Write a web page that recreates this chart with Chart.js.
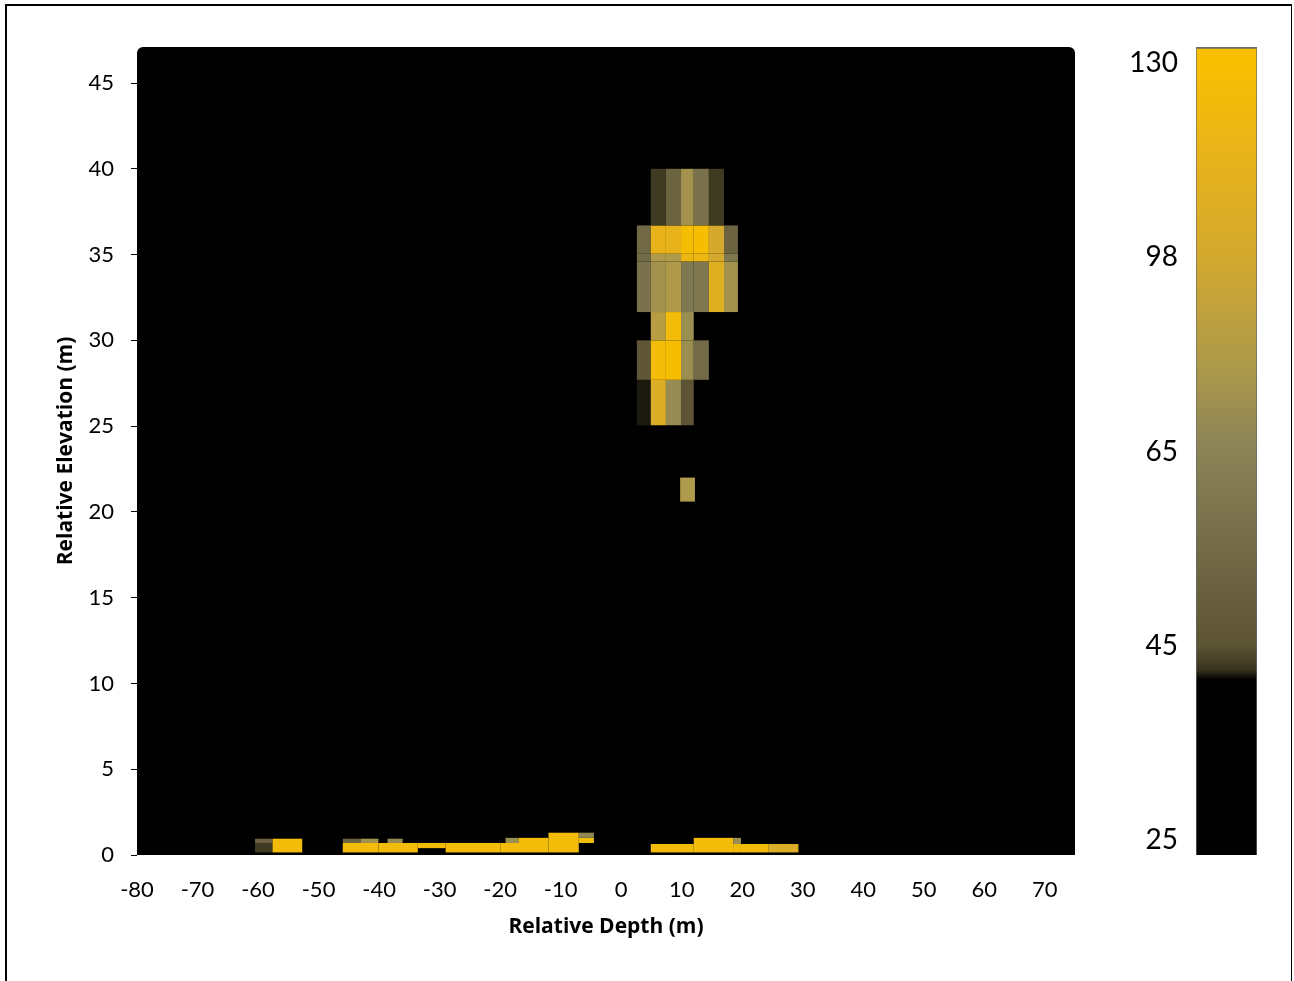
<!DOCTYPE html>
<html>
<head>
<meta charset="utf-8">
<script src="https://cdn.jsdelivr.net/npm/chart.js@4.4.1/dist/chart.umd.min.js"></script>
<style>
  html, body { margin: 0; padding: 0; background: #fff; }
  body { width: 1294px; height: 981px; position: relative; overflow: hidden; }
  #frame {
    position: absolute; left: 5px; top: 4px; width: 1287px; height: 990px;
    border-left: 2.5px solid #000; border-top: 2px solid #000; border-right: 1.5px solid #000;
    box-sizing: border-box;
  }
  #main { position: absolute; left: 0; top: 0; }
  #cbar { position: absolute; left: 1100px; top: 0; }
</style>
</head>
<body>
<div id="frame"></div>
<canvas id="main" width="1294" height="981"></canvas>
<canvas id="cbar" width="160" height="981"></canvas>
<script>
// axis ticks
const X_TICKS = [-80, -70, -60, -50, -40, -30, -20, -10, 0, 10, 20, 30, 40, 50, 60, 70];
const Y_TICKS = [0, 5, 10, 15, 20, 25, 30, 35, 40, 45];

// colour scale (value -> colour), same for cells and colour bar
const STOP_VALUES = [25, 41.5, 42.5, 45, 55, 65, 80, 98, 115, 130];
const STOP_COLORS = ['#000000', '#000000', '#38331e', '#5c5434', '#736b47', '#8a8357',
                     '#ae9a4a', '#d3a92e', '#e8b31a', '#f8c000'];

// colour bar labels (evenly spaced, non-linear values)
const CBAR_VALUES = [25, 45, 65, 98, 130];
const CBAR_LABELS = ['25', '45', '65', '98', '130'];

// upper cluster: column / row edges and values (rows bottom -> top, null = empty)
const CLUSTER_X_EDGES = [2.6, 4.9, 7.4, 9.9, 12.0, 14.5, 17.0, 19.3];
const CLUSTER_Y_EDGES = [25.05, 27.7, 30.0, 31.65, 34.6, 35.05, 36.7, 40.0];
const CLUSTER_VALUES = [
    [42, 105, 70, 45, null, null, null],
    [46, 125, 128, 72, 55, null, null],
    [null, 85, 125, 72, null, null, null],
    [58, 75, 80, 60, 60, 108, 75],
    [55, 80, 80, 120, 120, 100, 60],
    [54, 115, 115, 128, 128, 100, 52],
    [null, 43, 52, 75, 58, 43, null]
];

// single isolated cell: [x0, x1, y0, y1, value]
const SPOT_CELL = [9.75, 12.2, 20.6, 22.0, 80];

// near-surface cells: [x0, x1, y0, y1, value]
const SURFACE_CELLS = [
    [-60.5, -57.6, 0.15, 0.7, 43],
    [-60.5, -57.6, 0.7, 0.95, 50],
    [-57.6, -52.7, 0.15, 0.95, 125],
    [-46.0, -40.1, 0.15, 0.7, 125],
    [-46.0, -43.0, 0.7, 0.95, 52],
    [-43.0, -40.1, 0.7, 0.95, 75],
    [-40.1, -33.6, 0.15, 0.7, 125],
    [-38.6, -36.1, 0.7, 0.95, 70],
    [-33.6, -29.0, 0.4, 0.7, 125],
    [-29.0, -19.9, 0.15, 0.7, 125],
    [-19.9, -12.0, 0.15, 0.7, 125],
    [-19.1, -16.9, 0.7, 1.0, 72],
    [-16.9, -12.0, 0.7, 1.0, 125],
    [-12.0, -7.0, 0.15, 1.3, 125],
    [-7.0, -4.5, 0.7, 1.0, 125],
    [-7.0, -4.5, 1.0, 1.3, 68],
    [4.9, 12.0, 0.15, 0.64, 125],
    [12.0, 18.5, 0.15, 1.0, 125],
    [18.5, 19.8, 0.64, 1.0, 72],
    [18.5, 19.8, 0.15, 0.64, 125],
    [19.8, 24.3, 0.15, 0.64, 125],
    [24.3, 29.3, 0.15, 0.64, 105]
];

const TICK_FONT = 'Lato';
const TITLE_FONT = '"Open Sans"';

function hexToRgb(h) {
    const n = parseInt(h.slice(1), 16);
    return [(n >> 16) & 255, (n >> 8) & 255, n & 255];
}

function colorFor(v) {
    if (v <= STOP_VALUES[0]) return STOP_COLORS[0];
    for (let i = 1; i < STOP_VALUES.length; i++) {
        if (v <= STOP_VALUES[i]) {
            const t = (v - STOP_VALUES[i - 1]) / (STOP_VALUES[i] - STOP_VALUES[i - 1]);
            const a = hexToRgb(STOP_COLORS[i - 1]), b = hexToRgb(STOP_COLORS[i]);
            const c = a.map((x, k) => Math.round(x + (b[k] - x) * t));
            return `rgb(${c[0]},${c[1]},${c[2]})`;
        }
    }
    return STOP_COLORS[STOP_COLORS.length - 1];
}

// position of a value on the colour bar axis (0..4, piecewise linear)
function valueToIndex(v) {
    for (let i = 1; i < CBAR_VALUES.length; i++) {
        if (v <= CBAR_VALUES[i]) {
            return i - 1 + (v - CBAR_VALUES[i - 1]) / (CBAR_VALUES[i] - CBAR_VALUES[i - 1]);
        }
    }
    return CBAR_VALUES.length - 1;
}

const cellPlugin = {
    id: 'cells',
    beforeDatasetsDraw(chart) {
        const { ctx, chartArea: a, scales: { x, y } } = chart;
        ctx.save();
        ctx.fillStyle = '#000';
        ctx.beginPath();
        ctx.roundRect(a.left, a.top, a.width, a.height, [6, 6, 0, 0]);
        ctx.fill();
        ctx.beginPath();
        ctx.rect(a.left, a.top, a.width, a.height);
        ctx.clip();

        const drawCell = (x0, x1, y0, y1, v) => {
            if (v == null) return;
            const px0 = x.getPixelForValue(x0), px1 = x.getPixelForValue(x1);
            const py0 = y.getPixelForValue(y0), py1 = y.getPixelForValue(y1);
            ctx.fillStyle = colorFor(v);
            ctx.fillRect(px0, py1, px1 - px0, py0 - py1);
        };

        CLUSTER_VALUES.forEach((row, r) => {
            row.forEach((v, c) => {
                drawCell(CLUSTER_X_EDGES[c], CLUSTER_X_EDGES[c + 1],
                         CLUSTER_Y_EDGES[r], CLUSTER_Y_EDGES[r + 1], v);
            });
        });
        drawCell(...SPOT_CELL);
        SURFACE_CELLS.forEach(c => drawCell(...c));
        ctx.restore();
    }
};

new Chart(document.getElementById('main'), {
    type: 'scatter',
    data: { datasets: [{ data: [] }] },
    options: {
        responsive: false,
        animation: false,
        layout: { padding: { left: 0, top: 47, right: 219, bottom: 0 } },
        plugins: { legend: { display: false }, tooltip: { enabled: false } },
        scales: {
            x: {
                type: 'linear',
                min: -80,
                max: 75,
                afterBuildTicks: s => { s.ticks = X_TICKS.map(v => ({ value: v })); },
                afterFit: s => { s.height = 126; },
                grid: { display: false, drawTicks: false },
                border: { display: false },
                ticks: {
                    padding: 22,
                    color: '#000',
                    font: { family: TICK_FONT, size: 22 }
                },
                title: {
                    display: true,
                    text: 'Relative Depth (m)',
                    color: '#000',
                    font: { family: TITLE_FONT, size: 21, weight: 'bold' },
                    padding: { top: 0, bottom: 41 }
                }
            },
            y: {
                type: 'linear',
                min: 0,
                max: 47.1,
                afterBuildTicks: s => { s.ticks = Y_TICKS.map(v => ({ value: v })); },
                afterFit: s => { s.width = 137; },
                grid: { drawOnChartArea: false, tickLength: 6, color: '#000' },
                border: { display: false },
                ticks: {
                    padding: 17,
                    color: '#000',
                    font: { family: TICK_FONT, size: 22 }
                },
                title: {
                    display: true,
                    text: 'Relative Elevation (m)',
                    color: '#000',
                    font: { family: TITLE_FONT, size: 21, weight: 'bold' },
                    padding: { top: 53, bottom: 0 }
                }
            }
        }
    },
    plugins: [cellPlugin]
});

// colour bar
const CBAR_MIN = -0.077;
const CBAR_MAX = 4.082;

function barGradient(context) {
    const chart = context.chart;
    const a = chart.chartArea;
    if (!a) return null;
    const yScale = chart.scales.y;
    const g = chart.ctx.createLinearGradient(0, a.bottom, 0, a.top);
    STOP_VALUES.forEach((v, i) => {
        const py = yScale.getPixelForValue(valueToIndex(v));
        const off = Math.min(1, Math.max(0, (a.bottom - py) / (a.bottom - a.top)));
        g.addColorStop(off, STOP_COLORS[i]);
    });
    return g;
}

new Chart(document.getElementById('cbar'), {
    type: 'bar',
    data: {
        labels: [''],
        datasets: [{
            data: [[CBAR_MIN, CBAR_MAX]],
            backgroundColor: barGradient,
            borderColor: '#6a6a6a',
            borderWidth: { top: 2, left: 1, right: 1, bottom: 0 },
            borderSkipped: false,
            barPercentage: 1,
            categoryPercentage: 1
        }]
    },
    options: {
        responsive: false,
        animation: false,
        layout: { padding: { left: 0, top: 47, right: 3, bottom: 126 } },
        plugins: { legend: { display: false }, tooltip: { enabled: false } },
        scales: {
            x: { display: false },
            y: {
                type: 'linear',
                min: CBAR_MIN,
                max: CBAR_MAX,
                afterBuildTicks: s => {
                    s.ticks = CBAR_LABELS.map((_, i) => ({ value: i }));
                },
                afterFit: s => { s.width = 96; },
                grid: { display: false, drawTicks: false },
                border: { display: false },
                ticks: {
                    padding: 18,
                    color: '#000',
                    font: { family: TICK_FONT, size: 28 },
                    callback: v => CBAR_LABELS[Math.round(v)]
                }
            }
        }
    }
});
</script>
</body>
</html>
